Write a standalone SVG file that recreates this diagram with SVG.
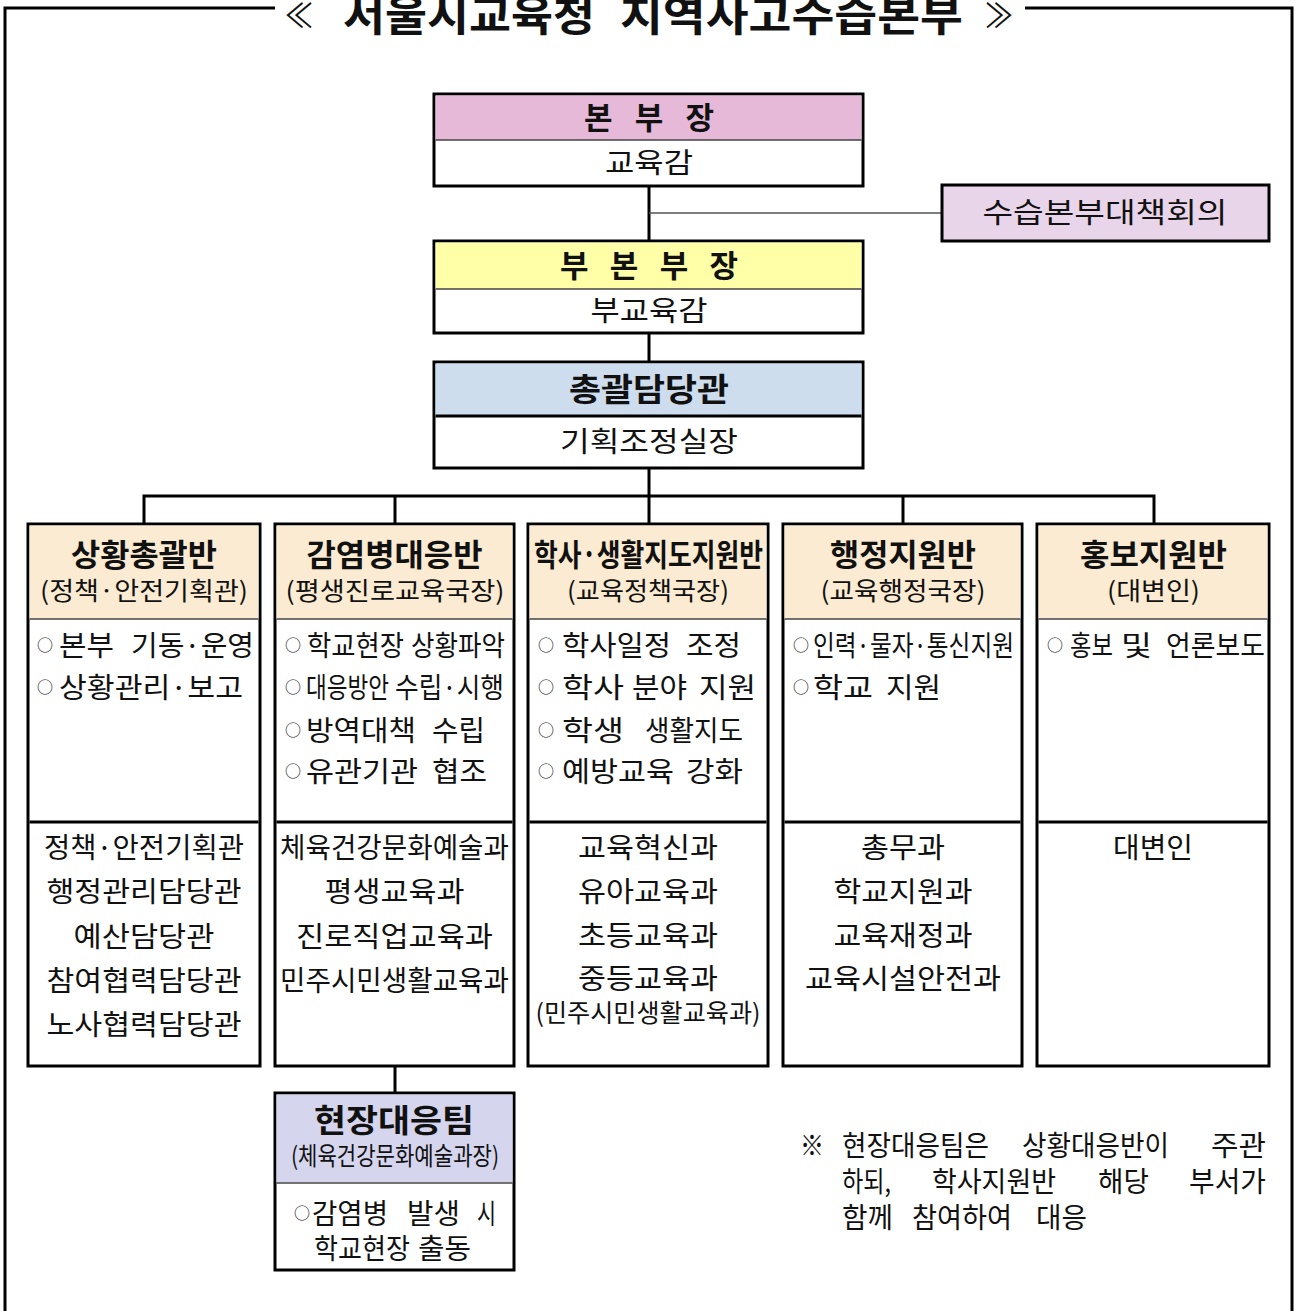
<svg xmlns="http://www.w3.org/2000/svg" width="1296" height="1311" viewBox="0 0 1296 1311" font-size="28">
<style>
text{font-family:"Noto Sans CJK KR","Noto Sans",sans-serif;fill:#111}
.b{font-weight:bold}
.c{text-anchor:middle}
.box{fill:#fff;stroke:#000;stroke-width:3}
.frame{fill:none;stroke:#000;stroke-width:3}
.hd{stroke:#444;stroke-width:1.3}
.mid{stroke:#000;stroke-width:3}
.conn{fill:none;stroke:#000;stroke-width:3}
.thin{fill:none;stroke:#555;stroke-width:1.3}
.sub{font-size:25px}
.dot{font-size:16px}
.tan{fill:#FBEBD2}
</style>

<g id="frame">
<polyline class="frame" points="275,8 5,8 5,1311"/>
<polyline class="frame" points="1025,8 1292,8 1292,1311"/>
<text y="31" class="b" font-size="42"><tspan x="285" font-weight="normal" font-size="34" dy="-3" textLength="28" lengthAdjust="spacingAndGlyphs">≪</tspan> <tspan x="343" dy="3" textLength="252" lengthAdjust="spacingAndGlyphs">서울시교육청</tspan> <tspan x="620" textLength="343" lengthAdjust="spacingAndGlyphs">지역사고수습본부</tspan> <tspan x="985" font-weight="normal" font-size="34" dy="-3" textLength="28" lengthAdjust="spacingAndGlyphs">≫</tspan></text>
</g>

<g id="connectors">
<line class="conn" x1="649" y1="186" x2="649" y2="241"/>
<line class="thin" x1="649" y1="213" x2="942" y2="213"/>
<line class="conn" x1="649" y1="333" x2="649" y2="362"/>
<line class="conn" x1="649" y1="468" x2="649" y2="496"/>
<polyline class="conn" points="144,524 144,496 1154,496 1154,524"/>
<line class="conn" x1="395" y1="496" x2="395" y2="524"/>
<line class="conn" x1="649" y1="496" x2="649" y2="524"/>
<line class="conn" x1="903" y1="496" x2="903" y2="524"/>
<line class="conn" x1="395" y1="1066" x2="395" y2="1093"/>
</g>

<g id="head">
<rect class="box" x="434" y="94" width="429" height="92"/>
<rect x="435.5" y="95.5" width="426" height="44.5" fill="#E6B9D8"/>
<line class="hd" x1="435.5" y1="140" x2="861.5" y2="140"/>
<text class="b c" x="649" y="129" font-size="31" textLength="130" lengthAdjust="spacing">본 부 장</text>
<text class="c" x="649" y="173" textLength="88" lengthAdjust="spacingAndGlyphs">교육감</text>
</g>

<g id="meeting">
<rect class="box" x="942" y="185" width="327" height="56" style="fill:#E9D5EA"/>
<text class="c" x="1105" y="223" textLength="245" lengthAdjust="spacingAndGlyphs">수습본부대책회의</text>
</g>

<g id="deputy">
<rect class="box" x="434" y="241" width="429" height="92"/>
<rect x="435.5" y="242.5" width="426" height="46.5" fill="#FFFFA8"/>
<line class="hd" x1="435.5" y1="289" x2="861.5" y2="289"/>
<text class="b c" x="649" y="277" font-size="31" textLength="178" lengthAdjust="spacing">부 본 부 장</text>
<text class="c" x="649" y="321" textLength="117" lengthAdjust="spacingAndGlyphs">부교육감</text>
</g>

<g id="general">
<rect class="box" x="434" y="362" width="429" height="106"/>
<rect x="435.5" y="363.5" width="426" height="52.5" fill="#CDDDEE"/>
<line class="mid" x1="435.5" y1="416" x2="861.5" y2="416"/>
<text class="b c" x="649" y="401" font-size="32" textLength="160" lengthAdjust="spacingAndGlyphs">총괄담당관</text>
<text class="c" x="649" y="452" textLength="178" lengthAdjust="spacingAndGlyphs">기획조정실장</text>
</g>

<g id="col1">
<rect class="box" x="28" y="524" width="232" height="542"/>
<rect class="tan" x="29.5" y="525.5" width="229" height="93.5"/>
<line class="hd" x1="29.5" y1="619" x2="258.5" y2="619"/>
<line class="mid" x1="29.5" y1="822" x2="258.5" y2="822"/>
<text class="b c" x="144" y="566" font-size="31" textLength="146" lengthAdjust="spacingAndGlyphs">상황총괄반</text>
<text class="c sub" x="144" y="600" textLength="208" lengthAdjust="spacingAndGlyphs">(정책·안전기획관)</text>
<text x="37" y="656"><tspan class="dot" dy="-5">○</tspan> <tspan x="59" dy="5" textLength="55" lengthAdjust="spacingAndGlyphs">본부</tspan> <tspan x="131" textLength="123" lengthAdjust="spacingAndGlyphs">기동·운영</tspan></text>
<text x="37" y="698"><tspan class="dot" dy="-5">○</tspan> <tspan x="59" dy="5" textLength="184" lengthAdjust="spacingAndGlyphs">상황관리·보고</tspan></text>
<text class="c" x="144" y="858" textLength="200" lengthAdjust="spacingAndGlyphs">정책·안전기획관</text>
<text class="c" x="144" y="902" textLength="195" lengthAdjust="spacingAndGlyphs">행정관리담당관</text>
<text class="c" x="144" y="947" textLength="141" lengthAdjust="spacingAndGlyphs">예산담당관</text>
<text class="c" x="144" y="991" textLength="195" lengthAdjust="spacingAndGlyphs">참여협력담당관</text>
<text class="c" x="144" y="1035" textLength="195" lengthAdjust="spacingAndGlyphs">노사협력담당관</text>
</g>

<g id="col2">
<rect class="box" x="275" y="524" width="239" height="542"/>
<rect class="tan" x="276.5" y="525.5" width="236" height="93.5"/>
<line class="hd" x1="276.5" y1="619" x2="512.5" y2="619"/>
<line class="mid" x1="276.5" y1="822" x2="512.5" y2="822"/>
<text class="b c" x="394.5" y="566" font-size="31" textLength="176" lengthAdjust="spacingAndGlyphs">감염병대응반</text>
<text class="c sub" x="395" y="600" textLength="219" lengthAdjust="spacingAndGlyphs">(평생진로교육국장)</text>
<text x="285" y="656"><tspan class="dot" dy="-5">○</tspan> <tspan x="307" dy="5" textLength="97" lengthAdjust="spacingAndGlyphs">학교현장</tspan> <tspan x="411" textLength="94" lengthAdjust="spacingAndGlyphs">상황파악</tspan></text>
<text x="285" y="698"><tspan class="dot" dy="-5">○</tspan> <tspan x="306" dy="5" textLength="83" lengthAdjust="spacingAndGlyphs">대응방안</tspan> <tspan x="395" textLength="109" lengthAdjust="spacingAndGlyphs">수립·시행</tspan></text>
<text x="285" y="741"><tspan class="dot" dy="-5">○</tspan> <tspan x="306" dy="5" textLength="110" lengthAdjust="spacingAndGlyphs">방역대책</tspan> <tspan x="432" textLength="53" lengthAdjust="spacingAndGlyphs">수립</tspan></text>
<text x="285" y="782"><tspan class="dot" dy="-5">○</tspan> <tspan x="306" dy="5" textLength="112" lengthAdjust="spacingAndGlyphs">유관기관</tspan> <tspan x="432" textLength="55" lengthAdjust="spacingAndGlyphs">협조</tspan></text>
<text class="c" x="394.5" y="858" textLength="229" lengthAdjust="spacingAndGlyphs">체육건강문화예술과</text>
<text class="c" x="394.5" y="902" textLength="140" lengthAdjust="spacingAndGlyphs">평생교육과</text>
<text class="c" x="394.5" y="947" textLength="197" lengthAdjust="spacingAndGlyphs">진로직업교육과</text>
<text class="c" x="394.5" y="991" textLength="229" lengthAdjust="spacingAndGlyphs">민주시민생활교육과</text>
</g>

<g id="col3">
<rect class="box" x="528" y="524" width="240" height="542"/>
<rect class="tan" x="529.5" y="525.5" width="237" height="93.5"/>
<line class="hd" x1="529.5" y1="619" x2="766.5" y2="619"/>
<line class="mid" x1="529.5" y1="822" x2="766.5" y2="822"/>
<text class="b c" x="648.5" y="566" font-size="31" textLength="229" lengthAdjust="spacingAndGlyphs">학사·생활지도지원반</text>
<text class="c sub" x="648" y="600" textLength="162" lengthAdjust="spacingAndGlyphs">(교육정책국장)</text>
<text x="538" y="656"><tspan class="dot" dy="-5">○</tspan> <tspan x="562" dy="5" textLength="109" lengthAdjust="spacingAndGlyphs">학사일정</tspan> <tspan x="686" textLength="55" lengthAdjust="spacingAndGlyphs">조정</tspan></text>
<text x="538" y="698"><tspan class="dot" dy="-5">○</tspan> <tspan x="562" dy="5" textLength="62" lengthAdjust="spacingAndGlyphs">학사</tspan> <tspan x="632" textLength="55" lengthAdjust="spacingAndGlyphs">분야</tspan> <tspan x="699" textLength="57" lengthAdjust="spacingAndGlyphs">지원</tspan></text>
<text x="538" y="741"><tspan class="dot" dy="-5">○</tspan> <tspan x="562" dy="5" textLength="62" lengthAdjust="spacingAndGlyphs">학생</tspan> <tspan x="645" textLength="98" lengthAdjust="spacingAndGlyphs">생활지도</tspan></text>
<text x="538" y="782"><tspan class="dot" dy="-5">○</tspan> <tspan x="562" dy="5" textLength="112" lengthAdjust="spacingAndGlyphs">예방교육</tspan> <tspan x="686" textLength="57" lengthAdjust="spacingAndGlyphs">강화</tspan></text>
<text class="c" x="648" y="858" textLength="140" lengthAdjust="spacingAndGlyphs">교육혁신과</text>
<text class="c" x="648" y="902" textLength="140" lengthAdjust="spacingAndGlyphs">유아교육과</text>
<text class="c" x="648" y="946" textLength="140" lengthAdjust="spacingAndGlyphs">초등교육과</text>
<text class="c" x="648" y="989" textLength="140" lengthAdjust="spacingAndGlyphs">중등교육과</text>
<text class="c" x="648" y="1022" font-size="25" textLength="225" lengthAdjust="spacingAndGlyphs">(민주시민생활교육과)</text>
</g>

<g id="col4">
<rect class="box" x="783" y="524" width="239" height="542"/>
<rect class="tan" x="784.5" y="525.5" width="236" height="93.5"/>
<line class="hd" x1="784.5" y1="619" x2="1020.5" y2="619"/>
<line class="mid" x1="784.5" y1="822" x2="1020.5" y2="822"/>
<text class="b c" x="903" y="566" font-size="31" textLength="146" lengthAdjust="spacingAndGlyphs">행정지원반</text>
<text class="c sub" x="903" y="600" textLength="165" lengthAdjust="spacingAndGlyphs">(교육행정국장)</text>
<text x="793" y="656"><tspan class="dot" dy="-5">○</tspan> <tspan x="813" dy="5" textLength="201" lengthAdjust="spacingAndGlyphs">인력·물자·통신지원</tspan></text>
<text x="793" y="698"><tspan class="dot" dy="-5">○</tspan> <tspan x="813" dy="5" textLength="60" lengthAdjust="spacingAndGlyphs">학교</tspan> <tspan x="886" textLength="55" lengthAdjust="spacingAndGlyphs">지원</tspan></text>
<text class="c" x="903" y="858" textLength="84" lengthAdjust="spacingAndGlyphs">총무과</text>
<text class="c" x="903" y="902" textLength="139" lengthAdjust="spacingAndGlyphs">학교지원과</text>
<text class="c" x="903" y="946" textLength="139" lengthAdjust="spacingAndGlyphs">교육재정과</text>
<text class="c" x="903" y="989" textLength="196" lengthAdjust="spacingAndGlyphs">교육시설안전과</text>
</g>

<g id="col5">
<rect class="box" x="1037" y="524" width="232" height="542"/>
<rect class="tan" x="1038.5" y="525.5" width="229" height="93.5"/>
<line class="hd" x1="1038.5" y1="619" x2="1267.5" y2="619"/>
<line class="mid" x1="1038.5" y1="822" x2="1267.5" y2="822"/>
<text class="b c" x="1153.5" y="566" font-size="31" textLength="147" lengthAdjust="spacingAndGlyphs">홍보지원반</text>
<text class="c sub" x="1153.5" y="600" textLength="93" lengthAdjust="spacingAndGlyphs">(대변인)</text>
<text x="1047" y="656"><tspan class="dot" dy="-5">○</tspan> <tspan x="1070" dy="5" textLength="43" lengthAdjust="spacingAndGlyphs">홍보</tspan> <tspan x="1121" textLength="31" lengthAdjust="spacingAndGlyphs">및</tspan> <tspan x="1166" textLength="99" lengthAdjust="spacingAndGlyphs">언론보도</tspan></text>
<text class="c" x="1153" y="858" textLength="80" lengthAdjust="spacingAndGlyphs">대변인</text>
</g>

<g id="team">
<rect class="box" x="275" y="1093" width="239" height="177"/>
<rect x="276.5" y="1094.5" width="236" height="88" fill="#D5D5EE"/>
<line class="hd" x1="276.5" y1="1183" x2="512.5" y2="1183"/>
<text class="b c" x="394" y="1132" font-size="32" textLength="160" lengthAdjust="spacingAndGlyphs">현장대응팀</text>
<text class="c" x="395" y="1165" font-size="25" textLength="208" lengthAdjust="spacingAndGlyphs">(체육건강문화예술과장)</text>
<text x="294" y="1224"><tspan class="dot" dy="-5">○</tspan><tspan x="312" dy="5" textLength="76" lengthAdjust="spacingAndGlyphs">감염병</tspan> <tspan x="407" textLength="53" lengthAdjust="spacingAndGlyphs">발생</tspan> <tspan x="477" textLength="19" lengthAdjust="spacingAndGlyphs">시</tspan></text>
<text x="314" y="1259"><tspan textLength="96" lengthAdjust="spacingAndGlyphs">학교현장</tspan> <tspan x="418" textLength="53" lengthAdjust="spacingAndGlyphs">출동</tspan></text>
</g>

<g id="note">
<text y="1156"><tspan x="800" textLength="24" lengthAdjust="spacingAndGlyphs">※</tspan> <tspan x="842" textLength="147" lengthAdjust="spacingAndGlyphs">현장대응팀은</tspan> <tspan x="1022" textLength="147" lengthAdjust="spacingAndGlyphs">상황대응반이</tspan> <tspan x="1211" textLength="55" lengthAdjust="spacingAndGlyphs">주관</tspan></text>
<text y="1192"><tspan x="842" textLength="49" lengthAdjust="spacingAndGlyphs">하되,</tspan> <tspan x="932" textLength="124" lengthAdjust="spacingAndGlyphs">학사지원반</tspan> <tspan x="1098" textLength="51" lengthAdjust="spacingAndGlyphs">해당</tspan> <tspan x="1189" textLength="77" lengthAdjust="spacingAndGlyphs">부서가</tspan></text>
<text y="1228"><tspan x="842" textLength="51" lengthAdjust="spacingAndGlyphs">함께</tspan> <tspan x="912" textLength="100" lengthAdjust="spacingAndGlyphs">참여하여</tspan> <tspan x="1036" textLength="51" lengthAdjust="spacingAndGlyphs">대응</tspan></text>
</g>
</svg>
